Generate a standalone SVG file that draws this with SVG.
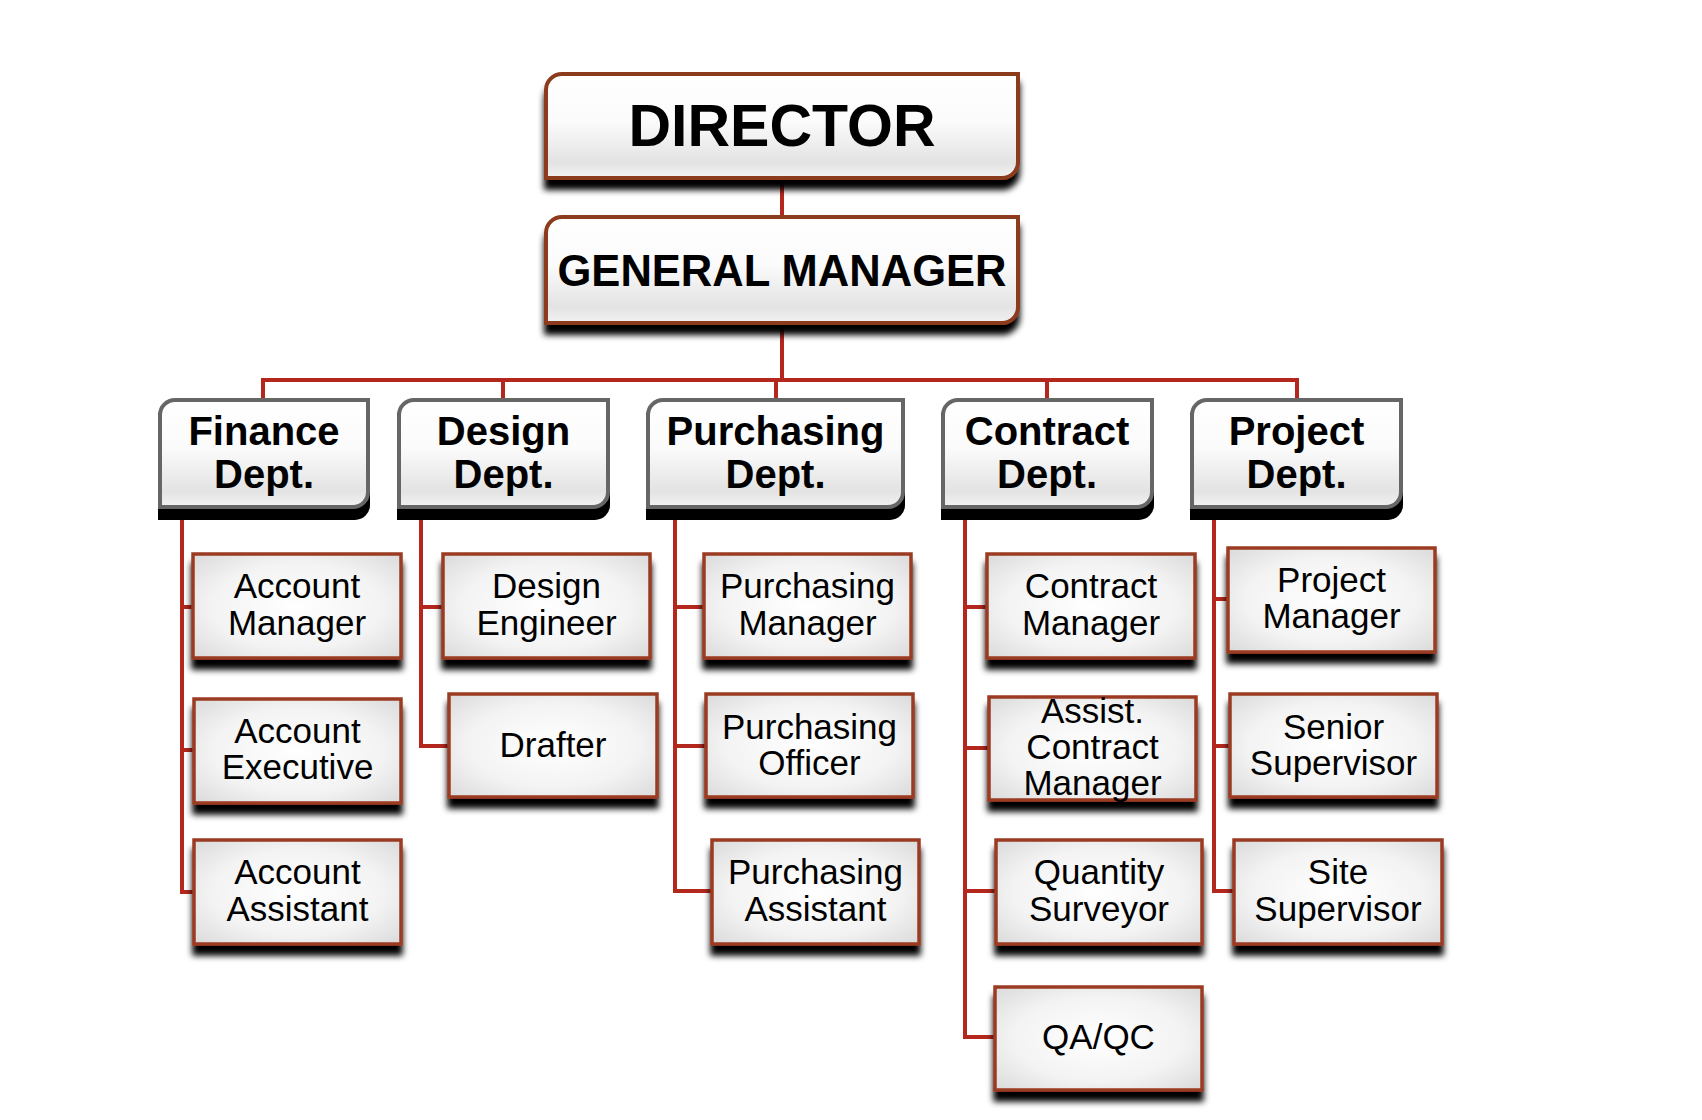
<svg xmlns="http://www.w3.org/2000/svg" width="1702" height="1120" viewBox="0 0 1702 1120">
<style>
.conn{stroke:#b3271d;stroke-width:4;fill:none;stroke-linejoin:miter;stroke-linecap:square}
.top{fill:url(#gTop);stroke:#8c3b1f;stroke-width:4}
.dept{fill:url(#gTop);stroke:#666;stroke-width:4}
.deptsh{fill:#000}
.child{fill:url(#gChild);stroke:#9a3a20;stroke-width:3.5}
text{font-family:"Liberation Sans",Arial,sans-serif;fill:#000;text-anchor:middle}
.tb{font-weight:bold;font-size:40px}
.tc{font-size:35px}
</style>
<defs>
<linearGradient id="gTop" x1="0" y1="0" x2="0" y2="1">
<stop offset="0" stop-color="#ffffff"/>
<stop offset="0.45" stop-color="#fbfbfb"/>
<stop offset="0.85" stop-color="#e3e3e3"/>
<stop offset="1" stop-color="#f2f2f2"/>
</linearGradient>
<radialGradient id="gChild" cx="0.5" cy="0.5" r="0.75">
<stop offset="0" stop-color="#ffffff"/>
<stop offset="0.55" stop-color="#f3f3f3"/>
<stop offset="1" stop-color="#d6d6d6"/>
</radialGradient>
<filter id="sh" x="-10%" y="-10%" width="120%" height="140%">
<feGaussianBlur in="SourceAlpha" stdDeviation="3"/>
<feOffset dx="0" dy="10" result="b"/>
<feComponentTransfer in="b" result="c"><feFuncA type="linear" slope="1"/></feComponentTransfer>
<feMerge><feMergeNode in="c"/><feMergeNode in="SourceGraphic"/></feMerge>
</filter>
</defs>
<rect width="1702" height="1120" fill="#fff"/>

<g id="connectors">
<path class="conn" d="M782,178V217M782,323V380M263,380H1297M263,380V400M503,380V400M776,380V400M1047,380V400M1297,380V400"/>
<path class="conn" d="M182,518V892H194M182,607H193M182,750H194"/>
<path class="conn" d="M421,518V746H449M421,607H443"/>
<path class="conn" d="M675,518V891H712M675,607H704M675,746H706"/>
<path class="conn" d="M965,518V1037H995M965,607H987M965,748H989M965,891H996"/>
<path class="conn" d="M1214,518V891H1234M1214,599H1228M1214,746H1230"/>
</g>

<g id="director">
<path class="top" filter="url(#sh)" d="M546,178V90A16,16 0 0 1 562,74H1018V162A16,16 0 0 1 1002,178Z"/>
<text x="782" y="146" style="font-weight:bold;font-size:59px">DIRECTOR</text>
</g>
<g id="general-manager">
<path class="top" filter="url(#sh)" d="M546,323V233A16,16 0 0 1 562,217H1018V307A16,16 0 0 1 1002,323Z"/>
<text x="782" y="286" style="font-weight:bold;font-size:44px" textLength="449" lengthAdjust="spacingAndGlyphs">GENERAL MANAGER</text>
</g>

<g id="finance-dept">
<path class="deptsh" d="M158,520V413H370V505A15,15 0 0 1 355,520Z"/>
<path class="dept" d="M160,507V415A15,15 0 0 1 175,400H368V492A15,15 0 0 1 353,507Z"/>
<text class="tb" x="264" y="445">Finance</text><text class="tb" x="264" y="488">Dept.</text>
</g>
<g id="design-dept">
<path class="deptsh" d="M397,520V413H610V505A15,15 0 0 1 595,520Z"/>
<path class="dept" d="M399,507V415A15,15 0 0 1 414,400H608V492A15,15 0 0 1 593,507Z"/>
<text class="tb" x="503.5" y="445">Design</text><text class="tb" x="503.5" y="488">Dept.</text>
</g>
<g id="purchasing-dept">
<path class="deptsh" d="M646,520V413H905V505A15,15 0 0 1 890,520Z"/>
<path class="dept" d="M648,507V415A15,15 0 0 1 663,400H903V492A15,15 0 0 1 888,507Z"/>
<text class="tb" x="775.5" y="445">Purchasing</text><text class="tb" x="775.5" y="488">Dept.</text>
</g>
<g id="contract-dept">
<path class="deptsh" d="M941,520V413H1154V505A15,15 0 0 1 1139,520Z"/>
<path class="dept" d="M943,507V415A15,15 0 0 1 958,400H1152V492A15,15 0 0 1 1137,507Z"/>
<text class="tb" x="1047" y="445">Contract</text><text class="tb" x="1047" y="488">Dept.</text>
</g>
<g id="project-dept">
<path class="deptsh" d="M1190,520V413H1403V505A15,15 0 0 1 1388,520Z"/>
<path class="dept" d="M1192,507V415A15,15 0 0 1 1207,400H1401V492A15,15 0 0 1 1386,507Z"/>
<text class="tb" x="1296.5" y="445">Project</text><text class="tb" x="1296.5" y="488">Dept.</text>
</g>

<g id="account-manager"><rect class="child" filter="url(#sh)" x="193" y="554" width="208" height="104"/>
<text class="tc" x="297" y="598">Account</text><text class="tc" x="297" y="635">Manager</text></g>
<g id="account-executive"><rect class="child" filter="url(#sh)" x="194" y="699" width="207" height="104"/>
<text class="tc" x="297.5" y="743">Account</text><text class="tc" x="297.5" y="779">Executive</text></g>
<g id="account-assistant"><rect class="child" filter="url(#sh)" x="194" y="840" width="207" height="104"/>
<text class="tc" x="297.5" y="884">Account</text><text class="tc" x="297.5" y="921">Assistant</text></g>

<g id="design-engineer"><rect class="child" filter="url(#sh)" x="443" y="554" width="207" height="104"/>
<text class="tc" x="546.5" y="598">Design</text><text class="tc" x="546.5" y="635">Engineer</text></g>
<g id="drafter"><rect class="child" filter="url(#sh)" x="449" y="694" width="208" height="103"/>
<text class="tc" x="553" y="757">Drafter</text></g>

<g id="purchasing-manager"><rect class="child" filter="url(#sh)" x="704" y="554" width="207" height="104"/>
<text class="tc" x="807.5" y="598">Purchasing</text><text class="tc" x="807.5" y="635">Manager</text></g>
<g id="purchasing-officer"><rect class="child" filter="url(#sh)" x="706" y="694" width="207" height="103"/>
<text class="tc" x="809.5" y="739">Purchasing</text><text class="tc" x="809.5" y="775">Officer</text></g>
<g id="purchasing-assistant"><rect class="child" filter="url(#sh)" x="712" y="840" width="207" height="104"/>
<text class="tc" x="815.5" y="884">Purchasing</text><text class="tc" x="815.5" y="921">Assistant</text></g>

<g id="contract-manager"><rect class="child" filter="url(#sh)" x="987" y="554" width="208" height="104"/>
<text class="tc" x="1091" y="598">Contract</text><text class="tc" x="1091" y="635">Manager</text></g>
<g id="assist-contract-manager"><rect class="child" filter="url(#sh)" x="989" y="697" width="207" height="103"/>
<text class="tc" x="1092.5" y="723">Assist.</text><text class="tc" x="1092.5" y="759">Contract</text><text class="tc" x="1092.5" y="795">Manager</text></g>
<g id="quantity-surveyor"><rect class="child" filter="url(#sh)" x="996" y="840" width="206" height="104"/>
<text class="tc" x="1099" y="884">Quantity</text><text class="tc" x="1099" y="921">Surveyor</text></g>
<g id="qaqc"><rect class="child" filter="url(#sh)" x="995" y="987" width="207" height="103"/>
<text class="tc" x="1098.5" y="1049">QA/QC</text></g>

<g id="project-manager"><rect class="child" filter="url(#sh)" x="1228" y="548" width="207" height="104"/>
<text class="tc" x="1331.5" y="592">Project</text><text class="tc" x="1331.5" y="628">Manager</text></g>
<g id="senior-supervisor"><rect class="child" filter="url(#sh)" x="1230" y="694" width="207" height="103"/>
<text class="tc" x="1333.5" y="739">Senior</text><text class="tc" x="1333.5" y="775">Supervisor</text></g>
<g id="site-supervisor"><rect class="child" filter="url(#sh)" x="1234" y="840" width="208" height="104"/>
<text class="tc" x="1338" y="884">Site</text><text class="tc" x="1338" y="921">Supervisor</text></g>
</svg>
